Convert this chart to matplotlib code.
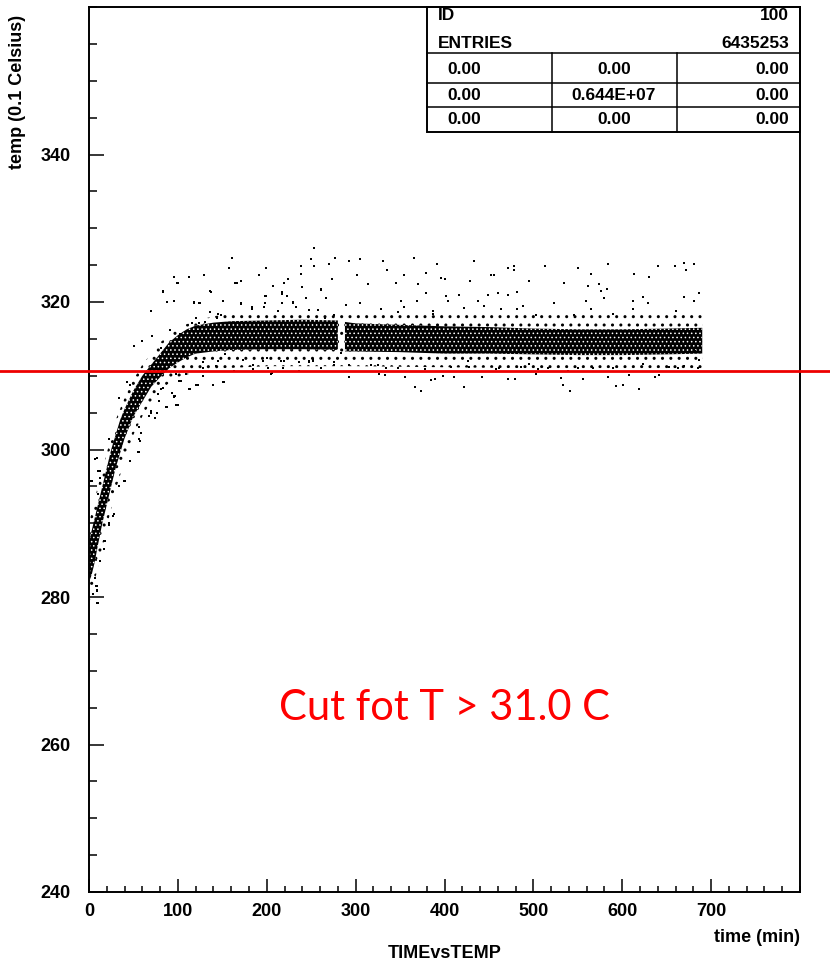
import numpy as np
import matplotlib as mpl
import matplotlib.pyplot as plt
import matplotlib.transforms as mtransforms
from matplotlib.lines import Line2D

# dense core of the scatter cloud: time (min) -> lower / upper edge (0.1 Celsius)
core_time = [0, 3, 6, 10, 15, 20, 25, 30, 35, 40, 50, 60, 70, 80, 90, 100, 110, 120,
             140, 160, 200, 240, 280, 283, 288, 300, 350, 400, 450, 500, 550, 600, 650, 690]
core_lo = [282.0, 283.0, 284.5, 287.0, 290.0, 292.5, 295.0, 297.5, 299.5, 301.5, 304.5, 306.5,
           308.5, 309.8, 311.0, 311.8, 312.5, 313.0, 313.3, 313.5, 313.6, 313.6, 313.5, np.nan,
           313.3, 313.3, 313.2, 313.0, 313.0, 312.9, 312.8, 312.8, 312.9, 313.0]
core_hi = [287.5, 289.0, 290.5, 292.5, 295.0, 297.5, 300.0, 302.0, 304.0, 305.5, 308.0, 310.0,
           311.5, 313.0, 314.5, 315.5, 316.3, 316.8, 317.2, 317.4, 317.5, 317.6, 317.5, np.nan,
           317.3, 317.1, 316.9, 316.7, 316.6, 316.4, 316.3, 316.3, 316.4, 316.5]

# looser halo of points around the core
halo_time = [0, 10, 20, 30, 40, 50, 60, 70, 80, 90, 100, 120, 150, 200, 300, 500, 690]
halo_lo = [279.0, 284.0, 289.5, 294.5, 298.5, 302.0, 304.5, 306.5, 308.0, 309.0, 309.8, 310.5,
           311.0, 311.3, 311.3, 311.0, 311.0]
halo_hi = [290.0, 295.0, 299.5, 304.0, 307.0, 309.5, 311.5, 313.0, 314.5, 315.5, 316.5, 317.5,
           318.3, 318.5, 318.5, 318.3, 318.3]

# single points outside the band
out_time = [161, 157.3, 95.4, 99.2, 113, 129.2, 83.1, 87.5, 95.4, 69.2, 164.8, 171.2, 137.4, 191,
            199.3, 207.5, 217.3, 223.7, 151.3, 118.7, 124.3, 171.2, 198.5, 183.5, 212.4, 229.3,
            50.4, 59.4, 71, 91.3, 81.2, 102.5, 120.5, 131, 143.8,
            33.6, 45.6, 40.9, 46.6, 56.3, 57.8, 58.9, 69.8, 67.2, 76.6, 87.9, 100.3, 96.6, 113,
            122.9, 139.3, 151.3, 101.8, 77.4, 79.3, 109.3, 128.8, 143, 163.7, 173, 184.3, 201.1,
            205, 218.1, 236.8, 26.8, 22.3, 17.4, 12.6, 6.2, 8.1, 8.8, 4.3, 9.9, 2.4, 9.9, 7.3, 23,
            99.9, 83, 87.6, 95.1, 118.7, 125, 136.6, 151.3, 136.6, 145, 148.7, 166.3, 207.5,
            219.9, 239.8, 261.2, 199.3, 217.3, 222.5, 198.5, 197.4, 217.3, 229.3, 233, 171.2,
            183.5, 248, 257.4, 276.2, 266, 116, 123.5,
            109.3, 128, 145, 152.5, 173.8, 184.3, 195.5, 200, 206, 216.2, 219.9, 236.8, 247.4,
            251.9, 276.2, 283.7, 98.1, 103.7, 93.6, 83, 113.8, 120.5, 128, 152.4, 95.1,
            9.2, 23, 12.9, 12.9, 3.2, 9.9, 39.2, 33.6, 27.9, 23, 18.2, 17.4, 12.9, 9.2, 9.2, 9.2,
            33.2, 43, 55, 45.6, 56.8, 56.8, 70, 74.8, 86.8, 98.1, 95.5, 113, 120.5, 139.3,
            151.7, 81.2,
            253.7, 250, 277, 293, 305.4, 253.7, 270, 331, 366, 391.3, 433.7, 513.5, 583.6, 640,
            670, 681, 659.8, 549.9, 478.7, 478.7, 471, 273.5, 301.3, 335, 354.9, 379.3, 396,
            400.7, 452.4, 455.4, 495.5, 534.9, 564.9, 613.6, 629.8, 671.8, 370, 345.5, 313.7,
            261, 428.8, 481.6, 561.2, 573.5, 576.2, 582.5, 379.3, 403.6, 401.8, 416.8, 437.4,
            449.4, 459.9, 471.2, 481.3, 559.3, 579.1, 611.8, 623, 670, 681.1, 686.8, 629.4,
            660.5, 523.6, 564.9, 546.1, 589.3, 611.8, 238.7, 238.7, 244.3, 266.8, 289.3, 305.4,
            351.2, 368.8, 328.7, 347.4, 354.9, 386.8, 386.8, 421.7, 444.9, 463.6, 488.8, 503,
            248, 251.8, 276.2, 261.2, 293, 292.3, 317.4, 326.8, 333.5, 324.9, 334.4, 347.4, 356,
            367.3, 373.7, 378.5, 385, 389.8, 398.8, 411.2, 421.7, 407.4, 426.2, 428, 442.3, 458,
            461.8, 471.9, 479.8, 486.2, 495.5, 503, 504.9, 516.2, 531.2, 533, 541.3, 538.6,
            549.9, 555.5, 567.5, 583.6, 589.3, 593, 601.3, 607.3, 619.3, 623, 637.3, 641, 653,
            662.4, 670, 684.9, 686.8, 682.3]
out_temp = [326.0, 324.6, 323.4, 322.6, 323.4, 323.7, 321.4, 320.0, 320.2, 318.8, 322.6, 322.9,
            321.4, 323.7, 324.6, 322.2, 321.3, 323.1, 320.2, 320.0, 319.8, 319.8, 320.8, 319.0,
            318.8, 319.9, 314.0, 314.7, 315.4, 316.2, 313.8, 315.6, 317.8, 317.3, 317.8,
            307.0, 308.8, 295.7, 298.4, 299.6, 301.2, 302.3, 305.2, 304.5, 305.0, 305.8, 306.0,
            307.3, 308.2, 308.8, 308.8, 309.2, 309.3, 307.5, 306.6, 310.2, 311.1, 311.3, 310.6,
            312.2, 311.5, 311.1, 310.3, 311.1, 310.6, 291.0, 289.8, 287.6, 284.9, 282.6, 281.5,
            280.8, 280.4, 279.2, 295.7, 297.1, 298.7, 301.4,
            322.6, 321.5, 320.0, 320.2, 319.9, 319.8, 321.5, 320.2, 318.7, 318.4, 318.3, 322.6,
            322.2, 322.6, 322.0, 321.6, 320.8, 321.1, 320.8, 319.9, 319.3, 319.8, 320.0, 319.3,
            319.7, 319.3, 318.9, 318.9, 318.3, 317.8, 317.1, 317.1,
            312.5, 311.8, 312.0, 312.9, 312.1, 310.9, 312.0, 312.4, 310.4, 312.0, 312.0, 311.8,
            311.8, 312.1, 311.8, 313.1, 310.2, 309.3, 307.7, 308.4, 308.2, 308.8, 310.0, 309.1,
            307.1,
            298.9, 301.4, 297.1, 296.2, 295.7, 293.9, 295.7, 295.0, 291.2, 290.0, 287.6, 286.5,
            284.9, 281.5, 280.9, 279.2, 307.0, 309.1, 299.6, 298.4, 303.0, 301.4, 305.0, 304.3,
            305.8, 306.0, 307.3, 308.2, 308.8, 308.7, 309.2, 308.2,
            327.3, 325.8, 326.0, 325.6, 325.8, 324.9, 325.1, 325.6, 326.0, 325.1, 325.6, 324.9,
            325.1, 324.9, 325.3, 325.1, 324.9, 324.6, 324.9, 324.3, 324.6, 323.1, 323.7, 324.3,
            323.7, 324.0, 323.3, 323.1, 323.7, 323.7, 322.9, 322.6, 323.8, 323.8, 323.4, 324.3,
            322.4, 322.6, 322.4, 321.7, 322.9, 321.4, 322.2, 322.4, 321.5, 321.7, 321.2, 320.2,
            320.8, 320.9, 320.2, 321.0, 321.2, 321.0, 319.0, 320.2, 320.5, 320.2, 320.7, 320.7,
            320.2, 321.2, 319.8, 318.8, 319.8, 319.0, 318.3, 318.4, 319.0, 324.9, 323.8, 320.6,
            320.6, 319.6, 319.8, 320.2, 320.2, 319.1, 318.7, 319.3, 318.8, 318.4, 319.2, 319.5,
            319.0, 319.5, 318.3,
            312.0, 312.0, 311.5, 311.1, 311.5, 309.8, 311.5, 310.3, 310.1, 311.5, 311.1, 311.0,
            309.8, 308.5, 307.9, 310.9, 309.4, 309.6, 310.0, 309.8, 308.5, 311.2, 312.0, 311.2,
            309.8, 310.9, 311.0, 309.6, 309.6, 311.2, 311.6, 310.3, 310.9, 311.1, 309.7, 308.7,
            307.9, 310.6, 311.1, 309.6, 311.1, 309.8, 311.0, 308.6, 308.8, 310.1, 308.2, 311.6,
            309.8, 310.1, 311.2, 311.0, 311.3, 311.0, 312.2, 313.4]

cut_level = 310.6
cut_label = "Cut fot T > 31.0 C"

stat_head = [("ID", "100"), ("ENTRIES", "6435253")]
stat_rows = [["0.00", "0.00", "0.00"],
             ["0.00", "0.644E+07", "0.00"],
             ["0.00", "0.00", "0.00"]]

W, H = 830, 966
paw = dict(family=["Liberation Sans", "DejaVu Sans"], fontweight="bold")


def fx(px):
    return px / W


def fy(py):
    return 1 - py / H


fig = plt.figure(figsize=(W / 100, H / 100), dpi=100)
ax = fig.add_axes([fx(89), fy(892), fx(800) - fx(89), fy(7) - fy(892)])

# sparse halo: small black dots
mpl.rcParams["hatch.linewidth"] = 1.0
ax.fill_between(halo_time, halo_lo, halo_hi, facecolor="none", edgecolor="black",
                hatch="..", linewidth=0)
# dense core: black with a few white specks
mpl.rcParams["hatch.linewidth"] = 0.6
ax.fill_between(core_time, core_lo, core_hi, facecolor="black", edgecolor="white",
                hatch="....", linewidth=0)
ax.plot(out_time, out_temp, ls="none", marker="s", ms=1.6, mew=0, color="black")

ax.set_xlim(0, 800)
ax.set_ylim(240, 360)
ax.set_xticks(np.arange(0, 800, 100))
ax.set_xticks(np.arange(0, 801, 20), minor=True)
ax.set_yticks(np.arange(240, 360, 20))
ax.set_yticks(np.arange(240, 361, 5), minor=True)
ax.tick_params(which="both", direction="in", width=1.1, color="black", top=False, right=False)
ax.tick_params(axis="y", which="major", length=10.8, pad=13)
ax.tick_params(axis="y", which="minor", length=5.8)
ax.tick_params(axis="x", which="major", length=9.4, pad=8)
ax.tick_params(axis="x", which="minor", length=4.5)
for lab in ax.get_xticklabels() + ax.get_yticklabels():
    lab.set_fontfamily(paw["family"])
    lab.set_fontweight("bold")
    lab.set_fontsize(13)
for sp in ax.spines.values():
    sp.set_linewidth(1.4)

# red cut line across the whole picture
trans = mtransforms.blended_transform_factory(fig.transFigure, ax.transData)
fig.add_artist(Line2D([0, 1], [cut_level, cut_level], transform=trans, color="#ee0000", lw=2.0))
ax.text(0.5, 0.208, cut_label, transform=ax.transAxes, ha="center", va="center",
        color="#ff0000", fontsize=30, family="Lato")

# axis titles
fig.text(fx(18), fy(92), "temp (0.1 Celsius)", rotation=90, ha="center", va="center",
         fontsize=13, **paw)
fig.text(fx(800), fy(938), "time (min)", ha="right", va="center", fontsize=13, **paw)
fig.text(fx(445), fy(954), "TIMEvsTEMP", ha="center", va="center", fontsize=13, **paw)

# statistics box
bl, br, bt, bb = 427, 800, 7, 132
hlines = [53, 83, 107]
vlines = [552, 677]
fig.add_artist(plt.Rectangle((fx(bl), fy(bb)), fx(br) - fx(bl), fy(bt) - fy(bb),
                             transform=fig.transFigure, fill=False, lw=1.4, color="black"))
for y in hlines:
    fig.add_artist(Line2D([fx(bl), fx(br)], [fy(y), fy(y)], transform=fig.transFigure,
                          color="black", lw=1.1))
for x in vlines:
    fig.add_artist(Line2D([fx(x), fx(x)], [fy(hlines[0]), fy(bb)], transform=fig.transFigure,
                          color="black", lw=1.1))
for (name, val), y in zip(stat_head, [16, 43]):
    fig.text(fx(438), fy(y), name, ha="left", va="center", fontsize=12.5, **paw)
    fig.text(fx(789), fy(y), val, ha="right", va="center", fontsize=12.5, **paw)
for row, y in zip(stat_rows, [70, 96, 119]):
    fig.text(fx(447), fy(y), row[0], ha="left", va="center", fontsize=12.5, **paw)
    fig.text(fx(614), fy(y), row[1], ha="center", va="center", fontsize=12.5, **paw)
    fig.text(fx(789), fy(y), row[2], ha="right", va="center", fontsize=12.5, **paw)

fig.savefig("out.png", dpi=100)
